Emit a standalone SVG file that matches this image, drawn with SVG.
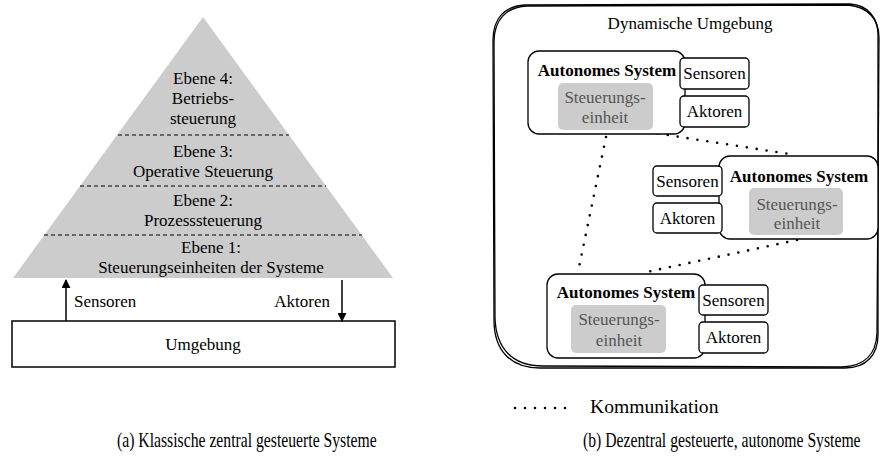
<svg xmlns="http://www.w3.org/2000/svg" width="880" height="457" viewBox="0 0 880 457" font-family="'Liberation Serif', 'DejaVu Serif', serif" font-size="17">
  <defs>
    <marker id="arrow" viewBox="0 0 10 10" refX="9" refY="5" markerWidth="9" markerHeight="9" markerUnits="userSpaceOnUse" orient="auto">
      <path d="M0,0 L10,5 L0,10 Z" fill="#000"/>
    </marker>
    <style>
      text { font-family: 'Liberation Serif', 'DejaVu Serif', serif; font-size: 17px; fill: #000; }
      .c { text-anchor: middle; }
      .b { font-weight: bold; }
      .g { fill: #555; }
      .legend-text { font-size: 19.6px; }
      .cap { font-size: 15.7px; }
      .level { stroke: #000; stroke-width: 1.2; stroke-dasharray: 4 3; fill: none; }
      .box { fill: #fff; stroke: #000; stroke-width: 1.3; }
      .unit { fill: #cccccc; stroke: none; }
      .sketch { fill: none; stroke: #000; stroke-width: 1.3; }
      .comm { fill: none; stroke: #000; stroke-width: 2.6; stroke-linecap: round; stroke-dasharray: 0 10; }
    </style>
  </defs>

  <!-- (a) hierarchical pyramid -->
  <g id="pyramid">
    <polygon points="203,17 393,278 13,278" fill="#cccccc"/>
    <line class="level" x1="118" y1="135" x2="289" y2="135"/>
    <line class="level" x1="80" y1="186" x2="326" y2="186"/>
    <line class="level" x1="44" y1="235" x2="362" y2="235"/>
  </g>
  <g id="ebene4">
    <text class="c" x="203" y="84">Ebene 4:</text>
    <text class="c" x="203" y="104">Betriebs-</text>
    <text class="c" x="203" y="124">steuerung</text>
  </g>
  <g id="ebene3">
    <text class="c" x="203" y="157">Ebene 3:</text>
    <text class="c" x="203" y="177">Operative Steuerung</text>
  </g>
  <g id="ebene2">
    <text class="c" x="203" y="206">Ebene 2:</text>
    <text class="c" x="203" y="226">Prozesssteuerung</text>
  </g>
  <g id="ebene1">
    <text class="c" x="211" y="253">Ebene 1:</text>
    <text class="c" x="211" y="273">Steuerungseinheiten der Systeme</text>
  </g>
  <g id="umgebung">
    <rect x="12" y="321" width="383" height="46" fill="#fff" stroke="#000" stroke-width="1.5"/>
    <text class="c" x="203" y="350">Umgebung</text>
  </g>
  <g id="connectors-a">
    <line x1="66" y1="321" x2="66" y2="280" stroke="#000" stroke-width="1.5" marker-end="url(#arrow)"/>
    <line x1="342" y1="280" x2="342" y2="321" stroke="#000" stroke-width="1.5" marker-end="url(#arrow)"/>
    <text x="74" y="307">Sensoren</text>
    <text x="330" y="307" text-anchor="end">Aktoren</text>
  </g>

  <!-- (b) decentralised autonomous systems -->
  <g id="dynamische-umgebung">
    <path class="sketch" d="M525,5 L850,4 C868,5 878,18 878,35 L878,335 C878,355 866,368 845,368 L540,368 C510,368 494,350 494,320 L493,40 C493,18 505,6 525,5 Z"/>
    <path class="sketch" d="M527,6 L848,5 C869,7 879,20 879,38 L877,333 C876,356 864,366 842,367 L543,366 C512,366 496,348 495,318 L494,42 C494,20 506,7 527,6 Z"/>
    <text class="c" x="690" y="29">Dynamische Umgebung</text>
  </g>

  <g id="connectors-b">
    <line class="comm" x1="606" y1="137" x2="578" y2="272"/>
    <line class="comm" x1="648" y1="132" x2="796" y2="155"/>
    <line class="comm" x1="797" y1="240" x2="642" y2="273"/>
  </g>

  <g id="system1">
    <rect class="box" x="528" y="51" width="157" height="83" rx="11"/>
    <text class="c b" x="607" y="76">Autonomes System</text>
    <rect class="unit" x="558" y="83" width="95" height="47" rx="5"/>
    <text class="c g" x="605" y="103">Steuerungs-</text>
    <text class="c g" x="605" y="123">einheit</text>
  </g>
  <g id="sensoren1">
    <rect class="box" x="680" y="58" width="69" height="31" rx="4"/>
    <text class="c" x="714.5" y="79">Sensoren</text>
  </g>
  <g id="aktoren1">
    <rect class="box" x="680" y="96" width="69" height="31" rx="4"/>
    <text class="c" x="714.5" y="117">Aktoren</text>
  </g>

  <g id="system2">
    <rect class="box" x="719" y="156" width="159" height="83" rx="11"/>
    <text class="c b" x="799" y="182">Autonomes System</text>
    <rect class="unit" x="749" y="188" width="94" height="47" rx="5"/>
    <text class="c g" x="797" y="210">Steuerungs-</text>
    <text class="c g" x="797" y="229">einheit</text>
  </g>
  <g id="sensoren2">
    <rect class="box" x="653" y="166" width="69" height="30" rx="4"/>
    <text class="c" x="687.5" y="187">Sensoren</text>
  </g>
  <g id="aktoren2">
    <rect class="box" x="653" y="203" width="69" height="30" rx="4"/>
    <text class="c" x="687.5" y="224">Aktoren</text>
  </g>

  <g id="system3">
    <rect class="box" x="547" y="274" width="158" height="84" rx="11"/>
    <text class="c b" x="626" y="298">Autonomes System</text>
    <rect class="unit" x="571" y="305" width="95" height="48" rx="5"/>
    <text class="c g" x="619" y="325">Steuerungs-</text>
    <text class="c g" x="619" y="346">einheit</text>
  </g>
  <g id="sensoren3">
    <rect class="box" x="699" y="285" width="69" height="30" rx="4"/>
    <text class="c" x="733.5" y="306">Sensoren</text>
  </g>
  <g id="aktoren3">
    <rect class="box" x="699" y="322" width="69" height="31" rx="4"/>
    <text class="c" x="733.5" y="343">Aktoren</text>
  </g>

  <g id="legend">
    <line class="comm" x1="515" y1="408" x2="568" y2="408" stroke-width="2" stroke-dasharray="0 10.6"/>
    <text class="legend-text" x="590" y="413">Kommunikation</text>
  </g>

  <!-- captions are set in a tall, narrow face: vertical stretch of a smaller size -->
  <g id="captions">
    <text class="cap" transform="translate(117,447) scale(1,1.27)" x="0" y="0">(a) Klassische zentral gesteuerte Systeme</text>
    <text class="cap" transform="translate(583,447) scale(1,1.27)" x="0" y="0">(b) Dezentral gesteuerte, autonome Systeme</text>
  </g>
</svg>
